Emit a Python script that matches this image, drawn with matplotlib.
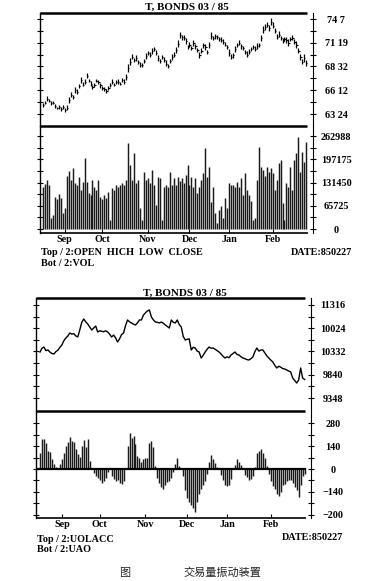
import matplotlib
matplotlib.use('Agg')
import matplotlib.pyplot as plt
import numpy as np

# ---------------- data ----------------
month_labels = ['Sep', 'Oct', 'Nov', 'Dec', 'Jan', 'Feb']
month_starts = [11, 30, 53, 74, 94, 116]          # trading-day index of first day of month

close = [
    64.74, 65.00, 65.40, 65.20, 64.96, 65.00, 64.60, 64.40, 64.50, 64.30,
    64.50, 64.20, 64.40, 65.30, 65.85, 65.60, 66.40, 66.20, 66.80, 67.50,
    67.00, 67.30, 67.94, 67.40, 67.10, 66.73, 66.90, 67.40, 67.28, 66.90,
    66.62, 66.50, 66.29, 66.60, 66.90, 67.28, 67.00, 67.30, 67.28, 67.10,
    67.50, 67.30, 67.80, 68.82, 69.50, 70.03, 69.70, 69.92, 69.50, 69.20,
    69.15, 69.60, 70.10, 70.47, 70.30, 70.70, 70.91, 70.50, 69.90, 69.60,
    70.03, 69.70, 69.30, 69.04, 69.60, 70.00, 70.30, 70.80, 71.50, 72.46,
    72.20, 72.13, 71.80, 71.13, 71.40, 71.00, 71.58, 71.20, 70.80, 70.25,
    70.70, 71.30, 71.13, 70.58, 71.30, 72.35, 72.10, 72.30, 72.24, 72.00,
    71.90, 71.70, 71.40, 71.10, 70.50, 70.03, 70.20, 70.90, 71.30, 71.58,
    71.20, 71.00, 70.58, 70.30, 70.58, 70.90, 71.13, 70.90, 71.20, 71.35,
    72.10, 73.00, 73.34, 73.56, 73.20, 73.89, 73.50, 72.90, 72.24, 72.50,
    72.13, 71.80, 72.00, 71.90, 71.60, 72.00, 72.13, 71.70, 71.35, 70.70,
    70.03, 69.50, 69.90, 69.37]

day_range_32nds = [
    14, 12, 18, 10, 16, 12, 14, 10, 12, 16,
    12, 14, 18, 20, 16, 14, 22, 18, 16, 20,
    14, 18, 16, 12, 18, 14, 16, 12, 14, 18,
    12, 16, 14, 12, 16, 18, 12, 14, 16, 12,
    14, 18, 20, 28, 22, 18, 16, 20, 14, 18,
    16, 14, 20, 16, 18, 22, 16, 18, 20, 14,
    16, 18, 22, 16, 14, 18, 16, 20, 24, 22,
    18, 16, 20, 14, 18, 16, 22, 18, 14, 20,
    16, 18, 22, 14, 20, 24, 16, 18, 14, 16,
    18, 20, 14, 16, 22, 18, 16, 20, 14, 16,
    18, 14, 16, 20, 18, 14, 16, 18, 20, 16,
    22, 24, 20, 18, 22, 24, 20, 18, 16, 20,
    14, 18, 16, 20, 22, 16, 18, 20, 24, 18,
    22, 20, 26, 22]

volume_k = [
    119, 128, 139, 124, 31, 40, 90, 85, 99, 88,
    45, 59, 150, 165, 140, 172, 130, 125, 147, 110,
    133, 200, 133, 102, 95, 139, 119, 110, 139, 90,
    85, 95, 88, 105, 25, 116, 110, 124, 118, 124,
    130, 124, 139, 243, 180, 140, 215, 130, 139, 60,
    25, 161, 140, 144, 130, 167, 124, 68, 147, 144,
    25, 119, 124, 120, 161, 125, 144, 124, 147, 135,
    144, 130, 153, 181, 124, 147, 119, 144, 102, 120,
    139, 158, 229, 147, 175, 76, 119, 45, 17, 54,
    65, 30, 88, 60, 130, 124, 124, 118, 133, 119,
    144, 96, 158, 110, 96, 80, 25, 30, 139, 232,
    175, 167, 150, 175, 160, 172, 158, 110, 140, 187,
    195, 74, 25, 130, 120, 175, 110, 195, 215, 260,
    160, 218, 190, 246]

uolacc = [
    10321, 10400, 10427, 10350, 10364, 10320, 10290, 10279, 10330, 10360,
    10420, 10470, 10560, 10618, 10660, 10724, 10700, 10710, 10660, 10639,
    10787, 10950, 11020, 10960, 10914, 10850, 10787, 10830, 10872, 10745,
    10770, 10760, 10750, 10770, 10745, 10700, 10639, 10680, 10620, 10533,
    10600, 10690, 10724, 10880, 10999, 10960, 10935, 10910, 10893, 10940,
    10999, 11000, 11104, 11150, 11190, 11210, 11062, 11000, 10956, 10950,
    10935, 10956, 10930, 10893, 10860, 10829, 10999, 10950, 10935, 10999,
    10900, 10851, 10650, 10575, 10590, 10600, 10364, 10420, 10406, 10340,
    10321, 10194, 10250, 10321, 10380, 10427, 10400, 10406, 10380, 10350,
    10321, 10280, 10230, 10194, 10220, 10200, 10258, 10290, 10321, 10270,
    10258, 10220, 10194, 10180, 10160, 10152, 10180, 10216, 10330, 10406,
    10340, 10364, 10364, 10300, 10240, 10194, 10150, 10110, 10040, 9983,
    10020, 10000, 9970, 9962, 9940, 9920, 9898, 9771, 9720, 9665,
    9729, 9983, 9771, 9740]

uao = [
    95, 181, 181, 160, 110, 104, 60, 30, 10, 5,
    30, 60, 95, 140, 165, 195, 170, 165, 120, 90,
    75, 140, 177, 135, 183, 50, 0, -25, -45, -55,
    -70, -85, -75, -55, -20, 0, -45, -60, -75, -70,
    -85, -90, -75, 0, 140, 217, 190, 200, 150, 80,
    65, 45, 60, 70, 70, 156, 170, 135, 20, -55,
    -85, -110, -125, -95, -80, -75, -55, -20, 30, 70,
    20, 5, -40, -130, -175, -199, -219, -235, -260, -200,
    -155, -125, -95, -75, -30, 40, 85, 60, 35, 15,
    5, -35, -70, -100, -105, -95, -60, 0, 25, 60,
    40, 25, 5, -35, -50, -65, -60, -40, 10, 95,
    110, 125, 100, 70, 20, -30, -75, -105, -125, -150,
    -165, -140, -100, -90, -75, -70, -65, -85, -110, -130,
    -168, -95, -45, -30]

price_ticks = [63.75, 66.375, 69.0, 71.59375, 74.21875]
price_ticklabels = ['63 24', '66 12', '68 32', '71 19', '74 7']
vol_ticks = [0, 65725, 131450, 197175, 262988]
vol_ticklabels = ['0', '65725', '131450', '197175', '262988']
uolacc_ticks = [9348, 9840, 10332, 10824, 11316]
uolacc_ticklabels = ['9348', '9840', '10332', '10024', '11316']
uao_ticks = [-280, -140, 0, 140, 280]
uao_ticklabels = ['\u2212200', '\u2212140', '0', '140', '280']

# ---------------- figure ----------------
W, H = 381, 581
fig = plt.figure(figsize=(W / 100, H / 100), dpi=100)
SERIF = ['Liberation Serif', 'DejaVu Serif']
CJK = ['Noto Sans CJK SC', 'DejaVu Sans']
FS = 7.3

def axes_px(l, t, r, b):
    ax = fig.add_axes([l / W, 1 - b / H, (r - l) / W, (b - t) / H])
    ax.patch.set_alpha(0)
    return ax

def ftext(x, y, s, **kw):
    kw.setdefault('family', SERIF)
    kw.setdefault('fontweight', 'bold')
    kw.setdefault('fontsize', FS)
    kw.setdefault('va', 'center')
    fig.text(x / W, 1 - y / H, s, **kw)

def style_panel(ax, ticks, labels, pad, minor=True):
    for s in ('top', 'bottom'):
        ax.spines[s].set_visible(False)
    ax.spines['left'].set_linewidth(1.0)
    ax.spines['right'].set_linewidth(0.8)
    ax.set_yticks(ticks)
    ax.set_yticklabels(labels)
    if minor:
        mids = [(a + b) / 2 for a, b in zip(ticks[:-1], ticks[1:])]
        ax.set_yticks(mids, minor=True)
    ax.tick_params(axis='y', which='both', left=True, right=True,
                   labelleft=False, labelright=True, direction='inout',
                   length=4, width=0.8, pad=pad, labelsize=FS)
    for t in ax.get_yticklabels():
        t.set_ha('center')
        t.set_family(SERIF)
        t.set_fontweight('bold')
    ax.set_xticks([])

def hline_axes(ax, y, x1, lw):
    ax.plot([0, x1], [y, y], transform=ax.transAxes, color='black',
            lw=lw, clip_on=False, solid_capstyle='butt', zorder=5)

idx = np.arange(len(close))
cl = np.array(close)
rng = np.array(day_range_32nds) / 32.0
hi = cl + rng * 0.55
lo = cl - rng * 0.45

# ---- top chart: price ----
ax1 = axes_px(40, 13, 313, 126)
ax1.set_xlim(-1.52, 136.4)
ax1.set_ylim(62.43, 74.88)
ax1.vlines(idx, lo, hi, color='black', lw=0.9)
ax1.hlines(cl, idx, idx + 0.6, color='black', lw=0.8)
style_panel(ax1, price_ticks, price_ticklabels, pad=14.6)
hline_axes(ax1, 1, 0.978, 1.8)
hline_axes(ax1, 0, 0.978, 1.8)

# ---- top chart: volume ----
ax2 = axes_px(40, 126, 313, 233)
ax2.set_xlim(-1.52, 136.4)
ax2.set_ylim(-11300, 291300)
ax2.vlines(idx, 0, np.array(volume_k) * 1000, color='#1a1a1a', lw=1.05)
style_panel(ax2, vol_ticks, vol_ticklabels, pad=14.6)
hline_axes(ax2, 0, 0.982, 1.2)
ax2.set_xticks(month_starts)
ax2.set_xticklabels(month_labels)
ax2.tick_params(axis='x', direction='in', length=3, width=0.8, pad=1.5,
                labelsize=FS, bottom=True)
for t in ax2.get_xticklabels():
    t.set_family(SERIF)
    t.set_fontweight('bold')

ftext(187, 7, 'T, BONDS 03 / 85', ha='center', fontsize=8)
ftext(41, 252, 'Top / 2:OPEN  HICH  LOW  CLOSE', ha='left')
ftext(41, 263, 'Bot / 2:VOL', ha='left')
ftext(352, 252, 'DATE:850227', ha='right')

# ---- bottom chart: UOLACC ----
ax3 = axes_px(36, 298, 311, 411)
ax3.set_xlim(-2.0, 136.2)
ax3.set_ylim(9073, 11464)
ax3.plot(idx, uolacc, color='black', lw=1.0)
style_panel(ax3, uolacc_ticks, uolacc_ticklabels, pad=13.8)
hline_axes(ax3, 1, 0.978, 1.8)
hline_axes(ax3, 0, 0.978, 1.8)

# ---- bottom chart: UAO ----
ax4 = axes_px(36, 411, 311, 518)
ax4.set_xlim(-2.0, 136.2)
ax4.set_ylim(-299, 354)
ax4.vlines(idx, 0, uao, color='#1a1a1a', lw=1.05)
ax4.axhline(0, xmin=0, xmax=0.978, color='black', lw=1.6)
style_panel(ax4, uao_ticks, uao_ticklabels, pad=13.8)
hline_axes(ax4, 0, 0.982, 1.2)
ax4.set_xticks(month_starts)
ax4.set_xticklabels(month_labels)
ax4.tick_params(axis='x', direction='in', length=3, width=0.8, pad=1.5,
                labelsize=FS, bottom=True)
for t in ax4.get_xticklabels():
    t.set_family(SERIF)
    t.set_fontweight('bold')

ftext(185, 293, 'T, BONDS 03 / 85', ha='center', fontsize=8)
ftext(37, 539, 'Top / 2:UOLACC', ha='left')
ftext(37, 550, 'Bot / 2:UAO', ha='left')
ftext(343, 538, 'DATE:850227', ha='right')

# caption
ftext(125, 573, '图', ha='center', family=CJK, fontweight='normal', fontsize=8, color='#222222')
ftext(222, 573, '交易量振动装置', ha='center', family=CJK, fontweight='normal', fontsize=8, color='#222222')

fig.savefig('out.png', dpi=100)
